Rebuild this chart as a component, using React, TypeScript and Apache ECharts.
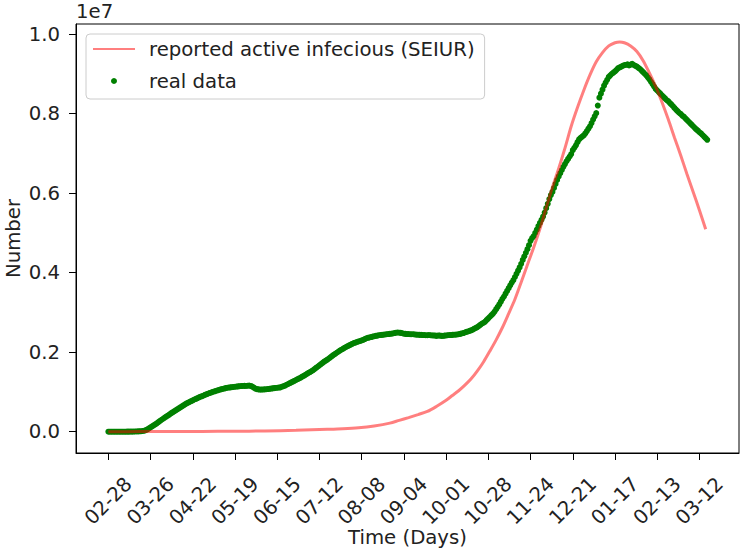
import React, { useEffect, useRef } from "react";
import * as echarts from "echarts";

const FONT = "DejaVu Sans";
const FS = 19.7;

// x tick positions (day index from 2020-02-28) and their labels
const tickDays = [0, 27, 54, 81, 108, 135, 162, 189, 216, 243, 270, 297, 324, 351, 378];
const tickLabels = ["02-28", "03-26", "04-22", "05-19", "06-15", "07-12", "08-08", "09-04", "10-01", "10-28", "11-24", "12-21", "01-17", "02-13", "03-12"];

const yTicks = [0, 2000000, 4000000, 6000000, 8000000, 10000000];

// real data, daily from day 0, in thousands
const realData = [
  0, 0, 0, 0, 0, 0, 0, 0, 0, 1,
  1, 1, 2, 2, 3, 3, 4, 5, 6, 8,
  10, 13, 17, 25, 40, 60, 85, 110, 135, 160,
  185, 210, 240, 270, 300, 325, 355, 380, 405, 430,
  460, 485, 510, 535, 560, 585, 610, 635, 660, 685,
  710, 730, 750, 770, 790, 810, 825, 845, 865, 880,
  895, 910, 930, 945, 960, 975, 990, 1005, 1015, 1030,
  1040, 1055, 1065, 1075, 1085, 1095, 1105, 1110, 1115, 1120,
  1125, 1130, 1135, 1140, 1145, 1148, 1150, 1152, 1150, 1155,
  1160, 1150, 1135, 1110, 1085, 1070, 1065, 1060, 1060, 1062,
  1065, 1068, 1072, 1078, 1085, 1090, 1095, 1100, 1105, 1110,
  1115, 1130, 1145, 1160, 1180, 1200, 1220, 1240, 1260, 1280,
  1300, 1320, 1340, 1360, 1385, 1405, 1430, 1455, 1480, 1500,
  1525, 1550, 1580, 1610, 1640, 1670, 1700, 1730, 1760, 1785,
  1810, 1840, 1870, 1900, 1930, 1955, 1985, 2010, 2040, 2060,
  2085, 2110, 2130, 2150, 2170, 2190, 2210, 2230, 2240, 2255,
  2270, 2280, 2295, 2310, 2330, 2350, 2360, 2370, 2380, 2390,
  2400, 2410, 2415, 2425, 2430, 2435, 2440, 2445, 2450, 2455,
  2460, 2465, 2470, 2480, 2490, 2495, 2490, 2485, 2475, 2465,
  2460, 2455, 2455, 2450, 2450, 2450, 2445, 2440, 2440, 2435,
  2435, 2430, 2430, 2425, 2425, 2430, 2425, 2420, 2420, 2415,
  2410, 2420, 2415, 2410, 2410, 2415, 2420, 2425, 2430, 2430,
  2435, 2440, 2440, 2445, 2450, 2460, 2470, 2480, 2495, 2510,
  2520, 2535, 2550, 2565, 2590, 2610, 2630, 2660, 2690, 2720,
  2740, 2770, 2810, 2850, 2890, 2930, 2970, 3020, 3080, 3140,
  3200, 3270, 3340, 3400, 3470, 3540, 3610, 3680, 3750, 3810,
  3890, 3970, 4050, 4130, 4220, 4320, 4410, 4500, 4590, 4690,
  4800, 4870, 4920, 5000, 5080, 5170, 5250, 5330, 5410, 5510,
  5620, 5730, 5850, 5950, 6030, 6130, 6230, 6330, 6420, 6500,
  6580, 6660, 6730, 6800, 6860, 6920, 6980, 7080, 7140, 7200,
  7280, 7350, 7390, 7420, 7450, 7500, 7560, 7620, 7680, 7760,
  7850, 7930, 8010, 8200, 8400, 8500, 8600, 8700, 8780, 8850,
  8920, 8960, 9000, 9030, 9060, 9100, 9140, 9160, 9180, 9200,
  9220, 9220, 9240, 9210, 9230, 9250, 9220, 9200, 9180, 9150,
  9120, 9080, 9040, 9000, 8960, 8910, 8860, 8800, 8740, 8680,
  8620, 8580, 8540, 8500, 8460, 8420, 8380, 8340, 8310, 8270,
  8230, 8190, 8140, 8100, 8060, 8020, 7990, 7950, 7920, 7880,
  7840, 7800, 7760, 7720, 7680, 7640, 7600, 7570, 7530, 7500,
  7460, 7420, 7380, 7340,
];

// SEIUR model curve, sampled days and values in thousands
const seiurDays = [0, 20, 40, 60, 80, 100, 120, 140, 150, 160, 170, 180, 186, 192, 198, 204, 210, 216, 220, 224, 228, 232, 236, 240, 244, 248, 252, 256, 260, 264, 268, 272, 276, 280, 284, 288, 292, 296, 300, 304, 308, 312, 316, 320, 324, 327, 330, 334, 338, 342, 346, 350, 354, 358, 362, 366, 370, 374, 378, 382];
const seiurValues = [0, 2, 4, 7, 11, 18, 35, 60, 75, 100, 145, 215, 285, 355, 430, 510, 640, 790, 910, 1030, 1170, 1330, 1530, 1760, 2030, 2310, 2620, 2970, 3330, 3760, 4200, 4630, 5100, 5630, 6150, 6620, 7130, 7680, 8150, 8580, 8970, 9300, 9530, 9700, 9780, 9800, 9780, 9700, 9560, 9330, 9020, 8680, 8290, 7860, 7400, 6950, 6480, 6030, 5570, 5090];

const SEIUR_NAME = "reported active infecious (SEIUR)";
const REAL_NAME = "real data";

export default function App() {
  const ref = useRef<HTMLDivElement>(null);
  useEffect(() => {
    document.body.style.margin = "0";
    const chart = echarts.init(ref.current!, null, { renderer: "svg" });
    const textColor = "#222";
    chart.setOption({
      animation: false,
      backgroundColor: "#fff",
      textStyle: { fontFamily: FONT },
      grid: {
        left: 76, right: 3, top: 24, bottom: 98,
        show: true, borderColor: "#000", borderWidth: 1,
        outerBoundsMode: "none",
      },
      graphic: [
        { type: "text", left: 76, top: 1, style: { text: "1e7", fontSize: FS, fill: textColor, fontFamily: FONT } },
      ],
      legend: {
        orient: "vertical",
        left: 86, top: 34,
        itemWidth: 42, itemHeight: 6, itemGap: 10,
        padding: [4, 10, 7, 6],
        borderColor: "#cccccc", borderWidth: 1, borderRadius: 4,
        backgroundColor: "rgba(255,255,255,0.8)",
        textStyle: { fontSize: FS, color: textColor, fontFamily: FONT, lineHeight: 22, padding: [0, 0, 0, 9] },
        data: [
          { name: SEIUR_NAME, itemStyle: { color: "rgba(0,0,0,0)", opacity: 0, borderWidth: 0 } },
          { name: REAL_NAME },
        ],
      },
      xAxis: {
        type: "value",
        min: -20.7, max: 403.3,
        splitLine: { show: false },
        axisLine: { show: true, onZero: false, lineStyle: { color: "#000", width: 1 } },
        axisTick: { show: true, length: 7, customValues: tickDays, lineStyle: { color: "#000" } },
        axisLabel: {
          customValues: tickDays,
          formatter: (v: number) => tickLabels[tickDays.indexOf(Math.round(v))] ?? "",
          rotate: 45, align: "center", verticalAlign: "middle", margin: 48,
          fontSize: FS, color: textColor, fontFamily: FONT,
        },
        name: "Time (Days)", nameLocation: "middle", nameGap: 74,
        nameMoveOverlap: false,
        nameTextStyle: { fontSize: FS, color: textColor, fontFamily: FONT },
      },
      yAxis: {
        type: "value",
        min: -535580, max: 10251446,
        splitLine: { show: false },
        axisLine: { show: true, onZero: false, lineStyle: { color: "#000", width: 1 } },
        axisTick: { show: true, length: 7, customValues: yTicks, lineStyle: { color: "#000" } },
        axisLabel: {
          customValues: yTicks,
          formatter: (v: number) => (v / 1e7).toFixed(1),
          margin: 16, fontSize: FS, color: textColor, fontFamily: FONT,
        },
        name: "Number", nameLocation: "middle", nameGap: 53,
        nameMoveOverlap: false,
        nameTextStyle: { fontSize: FS, color: textColor, fontFamily: FONT },
      },
      series: [
        {
          name: REAL_NAME,
          type: "scatter",
          symbol: "circle",
          symbolSize: 6,
          itemStyle: { color: "#008000", opacity: 1 },
          data: realData.map((v, i) => [i, v * 1000]),
        },
        {
          name: SEIUR_NAME,
          type: "line",
          symbol: "none",
          smooth: 0.3,
          lineStyle: { color: "#ff0000", width: 3, opacity: 0.5 },
          itemStyle: { color: "#ff0000", opacity: 0.5 },
          data: seiurDays.map((d, i) => [d, seiurValues[i] * 1000]),
        },
      ],
    });
    return () => chart.dispose();
  }, []);
  return <div ref={ref} style={{ width: 742, height: 551 }} />;
}
